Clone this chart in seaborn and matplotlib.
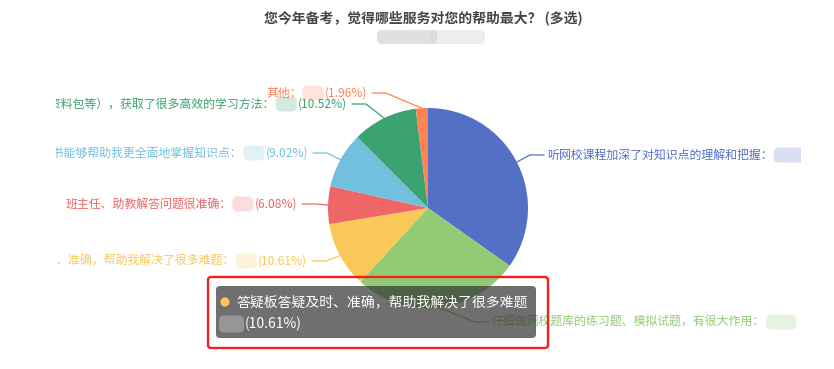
import numpy as np
import matplotlib
matplotlib.use("Agg")
import matplotlib.pyplot as plt
from matplotlib.patches import FancyBboxPatch, Circle, Rectangle
import seaborn as sns

# ---------------- data ----------------
title = "您今年备考，觉得哪些服务对您的帮助最大？ (多选)"
categories = [
    "听网校课程加深了对知识点的理解和把握",
    "仔细做网校题库的练习题、模拟试题，有很大作用",
    "答疑板答疑及时、准确，帮助我解决了很多难题",
    "班主任、助教解答问题很准确",
    "网校图书能够帮助我更全面地掌握知识点",
    "下载网校资料（讲义、资料包等），获取了很多高效的学习方法",
    "其他",
]
shares = [34.80, 27.01, 10.61, 6.08, 9.02, 10.52, 1.96]
show_pct = [False, False, True, True, True, True, True]
colors = ["#5470c6", "#91cc75", "#fac858", "#ee6666", "#73c0de", "#3ba272", "#fc8452"]
tooltip_index = 2

# ---------------- style ----------------
sns.set_theme(style="white")
plt.rcParams["font.family"] = ["Noto Sans CJK SC", "DejaVu Sans"]
palette = sns.color_palette(colors)

W, H = 834, 369
fig = plt.figure(figsize=(W / 100, H / 100), dpi=100)
ax = fig.add_axes([0, 0, 1, 1])

cx, cy, R = 428, 208, 100
wedges, _ = ax.pie(shares, colors=palette, startangle=-90, counterclock=True,
                   center=(cx, cy), radius=R, frame=True,
                   wedgeprops=dict(linewidth=0))
ax.set_xlim(0, W)
ax.set_ylim(H, 0)
ax.set_aspect("equal")
ax.axis("off")

# chart container clip (labels are cut at the container edges)
clip_rect = Rectangle((56, 0), 745, H, transform=ax.transData, visible=False)
ax.add_patch(clip_rect)

# label layout: (side, anchor x, y)
label_pos = [("right", 547, 155), ("right", 492, 322), ("left", 307, 261),
             ("left", 297, 204), ("left", 308, 153), ("left", 347, 104),
             ("left", 367, 93)]

fs = 8.6
renderer = fig.canvas.get_renderer()


def blur(x, y, w, h, color, alpha=0.22, z=3, clip=False):
    p = FancyBboxPatch((x, y - h / 2), w, h,
                       boxstyle="round,pad=0,rounding_size=5",
                       fc=color, ec="none", alpha=alpha, zorder=z)
    ax.add_patch(p)
    if clip:
        p.set_clip_path(clip_rect)
    return p


def ctext(*args, **kw):
    t = ax.text(*args, **kw)
    t.set_clip_on(True)
    t.set_clip_path(clip_rect)
    return t


for i, (w, cat, val, sp) in enumerate(zip(wedges, categories, shares, show_pct)):
    c = colors[i]
    side, lx, ly = label_pos[i]
    mid = np.deg2rad((w.theta1 + w.theta2) / 2)
    ex, ey = cx + R * np.cos(mid), cy + R * np.sin(mid)
    if side == "left":
        pct = ctext(lx, ly, f"({val:.2f}%)", ha="right", va="center",
                    color=c, fontsize=fs, zorder=4)
        bb = pct.get_window_extent(renderer)
        bx1 = bb.x0 - 1
        blur(bx1 - 21, ly, 21, 15, c, clip=True)
        ctext(bx1 - 22, ly, cat + "：", ha="right", va="center",
              color=c, fontsize=fs, zorder=4)
        hx0, hx1 = lx + 5, lx + 19
        ax.plot([hx0, hx1, ex], [ly, ly, ey], color=c, lw=0.9, zorder=2)
    else:
        t = ctext(lx, ly, cat + "：", ha="left", va="center",
                  color=c, fontsize=fs, zorder=4)
        bb = t.get_window_extent(renderer)
        blur(bb.x1 + 1, ly, 30, 15, c, clip=True)
        hx0, hx1 = lx - 3, lx - 17
        ax.plot([hx0, hx1, ex], [ly, ly, ey], color=c, lw=0.9, zorder=2)

# title and blurred subtitle
ax.text(423, 18, title, ha="center", va="center", fontsize=10,
        fontweight="bold", color="#464646")
blur(377, 37, 60, 14, "#c8c8c8", alpha=0.55)
blur(430, 37, 55, 14, "#d8d8d8", alpha=0.45)

# tooltip
ax.add_patch(FancyBboxPatch((216, 286), 320, 52,
                            boxstyle="round,pad=0,rounding_size=4",
                            fc="#323232", ec="none", alpha=0.7, zorder=10))
ax.add_patch(Circle((225, 302), 4.6, fc=colors[tooltip_index], ec="none", zorder=11))
ax.text(236, 302, categories[tooltip_index], ha="left", va="center",
        color="white", fontsize=10, zorder=11)
blur(219, 324, 25, 17, "#a0a0a0", alpha=0.8, z=11)
ax.text(245, 324, f"({shares[tooltip_index]:.2f}%)", ha="left", va="center",
        color="white", fontsize=10, zorder=11)

# red highlight frame
ax.add_patch(FancyBboxPatch((208, 277), 340, 71,
                            boxstyle="round,pad=0,rounding_size=3",
                            fill=False, ec="#f0211b", lw=1.7, zorder=12))

fig.savefig("out.png", dpi=100)
